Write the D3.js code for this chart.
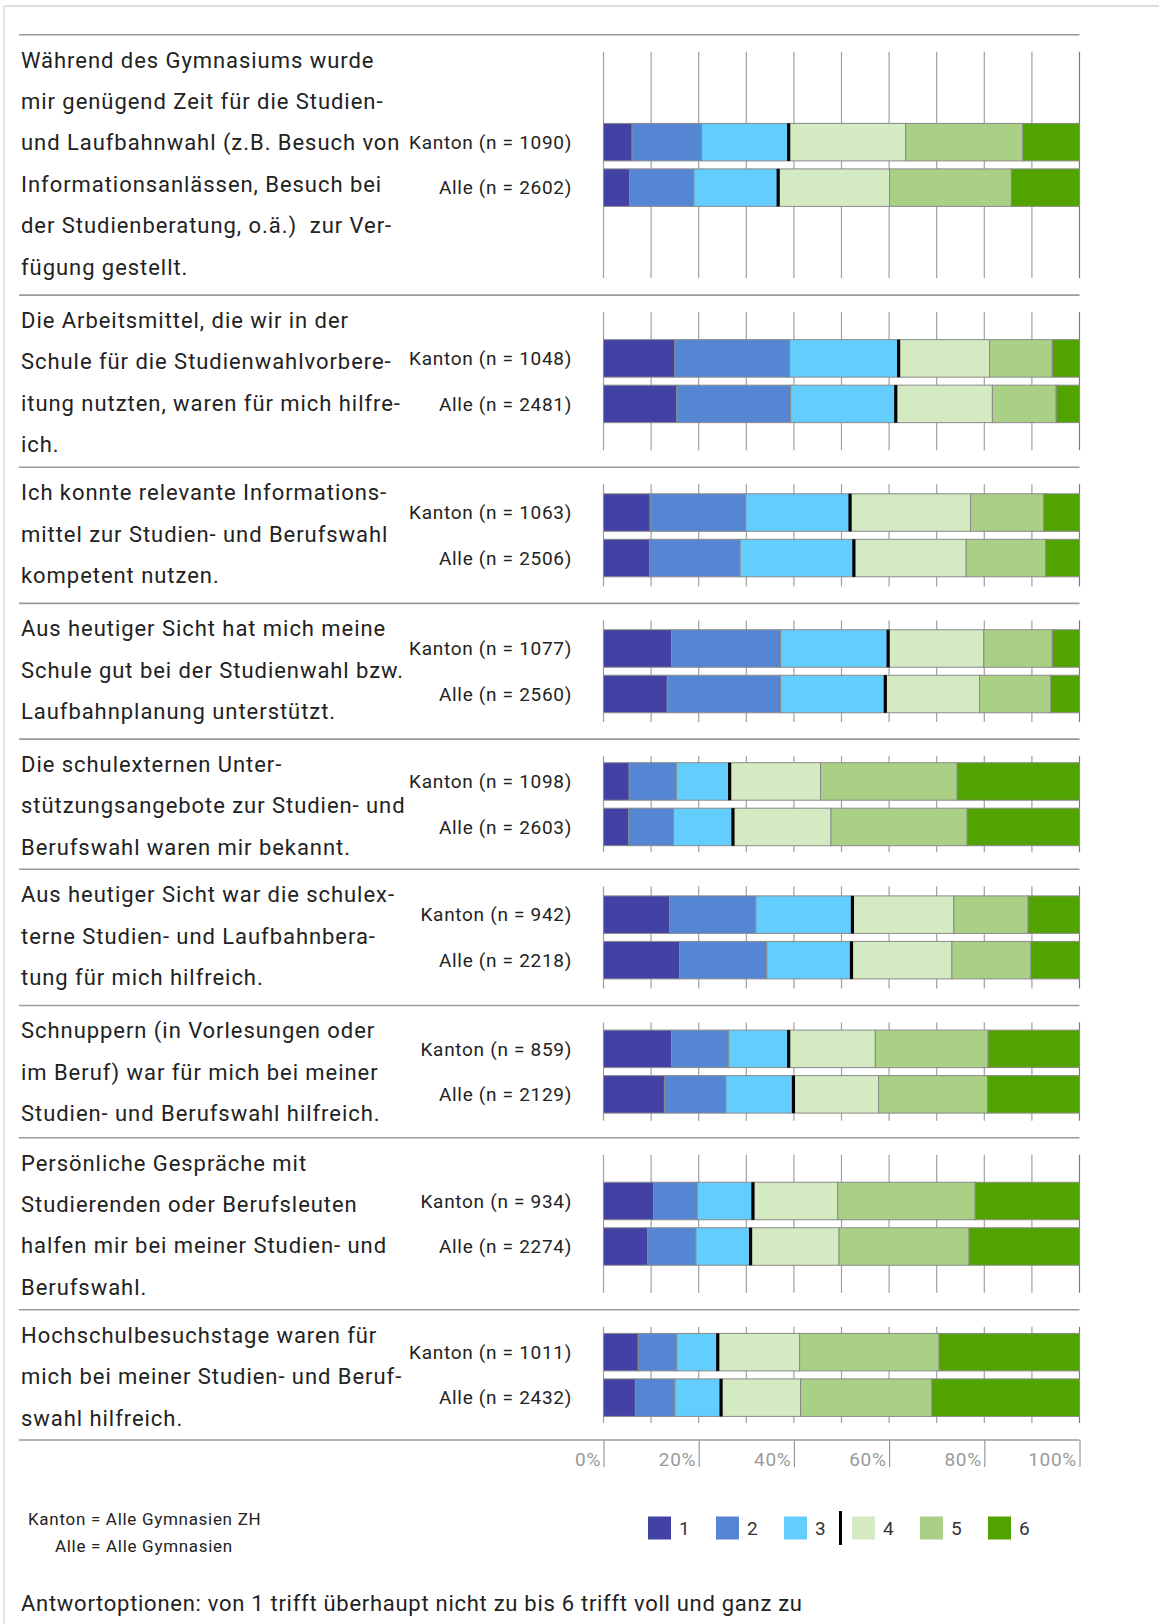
<!DOCTYPE html>
<html lang="de">
<head>
<meta charset="utf-8">
<script src="https://cdn.jsdelivr.net/npm/d3@7"></script>
<style>
  html, body { margin: 0; padding: 0; background: #fff; }
  svg { display: block; font-family: Roboto, "Noto Sans", sans-serif; }
  text.stmt { white-space: pre; }
</style>
</head>
<body>
<svg id="chart" width="1159" height="1624"></svg>
<script>
// Survey statements (wrapped lines as printed)
const statements = [
  ["Während des Gymnasiums wurde", "mir genügend Zeit für die Studien-", "und Laufbahnwahl (z.B. Besuch von", "Informationsanlässen, Besuch bei", "der Studienberatung, o.ä.)  zur Ver-", "fügung gestellt."],
  ["Die Arbeitsmittel, die wir in der", "Schule für die Studienwahlvorbere-", "itung nutzten, waren für mich hilfre-", "ich."],
  ["Ich konnte relevante Informations-", "mittel zur Studien- und Berufswahl", "kompetent nutzen."],
  ["Aus heutiger Sicht hat mich meine", "Schule gut bei der Studienwahl bzw.", "Laufbahnplanung unterstützt."],
  ["Die schulexternen Unter-", "stützungsangebote zur Studien- und", "Berufswahl waren mir bekannt."],
  ["Aus heutiger Sicht war die schulex-", "terne Studien- und Laufbahnbera-", "tung für mich hilfreich."],
  ["Schnuppern (in Vorlesungen oder", "im Beruf) war für mich bei meiner", "Studien- und Berufswahl hilfreich."],
  ["Persönliche Gespräche mit", "Studierenden oder Berufsleuten", "halfen mir bei meiner Studien- und", "Berufswahl."],
  ["Hochschulbesuchstage waren für", "mich bei meiner Studien- und Beruf-", "swahl hilfreich."]
];

// Sample sizes
const nKanton = [1090, 1048, 1063, 1077, 1098, 942, 859, 934, 1011];
const nAlle   = [2602, 2481, 2506, 2560, 2603, 2218, 2129, 2274, 2432];

// Answer levels 1..6
const levels = ["1", "2", "3", "4", "5", "6"];

// Percent shares per answer level, Kanton (Alle Gymnasien ZH)
const kantonShares = [
  [6.0, 14.6, 18.3, 24.6, 24.6, 11.9],
  [15.0, 24.1, 22.9, 19.1, 13.2, 5.7],
  [9.8, 20.1, 21.9, 25.3, 15.4, 7.5],
  [14.3, 22.9, 22.6, 20.1, 14.4, 5.7],
  [5.4, 9.9, 11.2, 19.1, 28.7, 25.7],
  [13.9, 18.1, 20.3, 21.3, 15.6, 10.8],
  [14.3, 12.0, 12.6, 18.2, 23.7, 19.2],
  [10.5, 9.2, 11.7, 17.8, 28.9, 21.9],
  [7.3, 8.1, 8.6, 17.2, 29.3, 29.5]
];

// Percent shares per answer level, Alle (Alle Gymnasien)
const alleShares = [
  [5.5, 13.5, 17.7, 23.4, 25.6, 14.3],
  [15.4, 23.9, 22.1, 20.3, 13.4, 4.9],
  [9.7, 19.0, 23.9, 23.6, 16.7, 7.1],
  [13.4, 23.8, 22.0, 19.8, 15.0, 6.0],
  [5.3, 9.4, 12.5, 20.6, 28.6, 23.6],
  [16.0, 18.3, 17.8, 21.1, 16.6, 10.2],
  [12.8, 12.9, 14.2, 17.9, 22.9, 19.3],
  [9.3, 10.1, 11.5, 18.6, 27.3, 23.2],
  [6.7, 8.3, 9.7, 16.7, 27.6, 31.0]
];

const axisTicks = [0, 20, 40, 60, 80, 100];
const gridTicks = [0, 10, 20, 30, 40, 50, 60, 70, 80, 90, 100];

const levelColors = ["#4242a5", "#5486d3", "#63cdfd", "#d4eac2", "#a9d084", "#51a400"];

// ---- layout ----
const svg = d3.select("#chart");
const left = 21, plotL = 603.5, plotR = 1079.5;
const top0 = 34.7;
const lineH = 41.4;
const blockPad = [12, 6.5, 12, 11.5, 6, 12, 8, 6.5, 6];   // extra space below each text block
const barH = 37.5, barGap = 8;
const labelRight = 572;

const x = d3.scaleLinear().domain([0, 100]).range([plotL, plotR]);
const color = d3.scaleOrdinal().domain(levels).range(levelColors);
const stack = d3.stack().keys(d3.range(6));

// Vertical extent of each statement block, from its number of text lines
const groups = [];
let yCursor = top0;
statements.forEach((lines, i) => {
  const h = lineH * lines.length + blockPad[i];
  groups.push({ i, lines, y0: yCursor, y1: yCursor + h });
  yCursor += h;
});
const axisY = yCursor;

// outer frame (top + left rule)
svg.append("line").attr("x1", 4).attr("x2", 1159).attr("y1", 6).attr("y2", 6)
  .attr("stroke", "#dcdcdc").attr("stroke-width", 2);
svg.append("line").attr("x1", 4).attr("x2", 4).attr("y1", 6).attr("y2", 1624)
  .attr("stroke", "#e4e4e4").attr("stroke-width", 2);

// separators between statements
const sepYs = [top0].concat(groups.map(g => g.y1));
svg.append("g").selectAll("line").data(sepYs).join("line")
  .attr("x1", left - 2).attr("x2", plotR)
  .attr("y1", d => d).attr("y2", d => d)
  .attr("stroke", "#9a9a9a").attr("stroke-width", 1.6);

groups.forEach(g => {
  const gEl = svg.append("g");
  // gridlines
  gEl.selectAll("line.grid").data(gridTicks).join("line")
    .attr("class", "grid")
    .attr("x1", d => x(d)).attr("x2", d => x(d))
    .attr("y1", g.y0 + 17).attr("y2", g.y1 - 17)
    .attr("stroke", d => d === 100 ? "#7a7a7a" : "#a0a0a0").attr("stroke-width", 1.2);

  // statement text
  gEl.selectAll("text.stmt").data(g.lines).join("text")
    .attr("class", "stmt")
    .attr("x", left)
    .attr("y", (d, k) => g.y0 + 25 + k * lineH)
    .attr("dy", "0.36em")
    .attr("font-size", 22)
    .attr("letter-spacing", "0.95px")
    .attr("fill", "#222")
    .text(d => d);

  const cy = (g.y0 + g.y1) / 2;
  const rows = [
    { label: `Kanton (n = ${nKanton[g.i]})`, shares: kantonShares[g.i], y: cy - barGap / 2 - barH },
    { label: `Alle (n = ${nAlle[g.i]})`, shares: alleShares[g.i], y: cy + barGap / 2 }
  ];

  rows.forEach(r => {
    const series = stack([r.shares]);
    const segs = series.map((s, k) => ({ k, x0: s[0][0], x1: s[0][1] }));
    gEl.append("g").selectAll("rect").data(segs).join("rect")
      .attr("x", d => x(d.x0)).attr("width", d => x(d.x1) - x(d.x0))
      .attr("y", r.y).attr("height", barH)
      .attr("fill", d => color(levels[d.k]))
      .attr("stroke", "#8a8a8a").attr("stroke-width", 1);
    // neutral divider between level 3 and 4
    const mid = segs[2].x1;
    gEl.append("rect")
      .attr("x", x(mid) - 1.6).attr("width", 3.2)
      .attr("y", r.y).attr("height", barH)
      .attr("fill", "#000");
    gEl.append("text")
      .attr("x", labelRight).attr("y", r.y + barH / 2)
      .attr("dy", "0.36em").attr("text-anchor", "end")
      .attr("font-size", 19).attr("letter-spacing", "0.7px")
      .attr("fill", "#222")
      .text(r.label);
  });
});

// bottom percentage axis
const axis = d3.axisBottom(x).tickValues(axisTicks).tickSize(27).tickFormat(d => d + "%");
const axG = svg.append("g").attr("transform", `translate(0,${axisY})`).call(axis);
axG.select(".domain").remove();
axG.selectAll(".tick line").attr("stroke", "#9a9a9a").attr("stroke-width", 1.2);
axG.selectAll(".tick text")
  .attr("x", -3).attr("y", 19).attr("dy", "0.36em")
  .attr("text-anchor", "end")
  .attr("font-size", 19).attr("font-family", "Roboto, sans-serif")
  .attr("letter-spacing", "0.7px")
  .attr("fill", "#9a9a9a");

// group legend
const legendY = 1528;
svg.append("text").attr("x", 28).attr("y", 1519).attr("dy", "0.36em")
  .attr("font-size", 17).attr("letter-spacing", "0.7px").attr("fill", "#222")
  .text("Kanton = Alle Gymnasien ZH");
svg.append("text").attr("x", 55).attr("y", 1546).attr("dy", "0.36em")
  .attr("font-size", 17).attr("letter-spacing", "0.7px").attr("fill", "#222")
  .text("Alle = Alle Gymnasien");

// level legend
const legX = d3.scalePoint().domain(levels).range([648, 648 + 68 * 5]);
const lg = svg.append("g");
lg.selectAll("rect").data(levels).join("rect")
  .attr("x", d => legX(d)).attr("y", legendY - 11.5)
  .attr("width", 23).attr("height", 23)
  .attr("fill", d => color(d));
lg.selectAll("text").data(levels).join("text")
  .attr("x", d => legX(d) + 31).attr("y", legendY)
  .attr("dy", "0.36em").attr("font-size", 19).attr("fill", "#333")
  .text(d => d);
lg.append("rect").attr("x", 839).attr("y", legendY - 17).attr("width", 3).attr("height", 34).attr("fill", "#000");

// footnote
svg.append("text").attr("x", 21).attr("y", 1603).attr("dy", "0.36em")
  .attr("font-size", 22).attr("letter-spacing", "0.72px").attr("fill", "#222")
  .text("Antwortoptionen: von 1 trifft überhaupt nicht zu bis 6 trifft voll und ganz zu");
</script>
</body>
</html>
